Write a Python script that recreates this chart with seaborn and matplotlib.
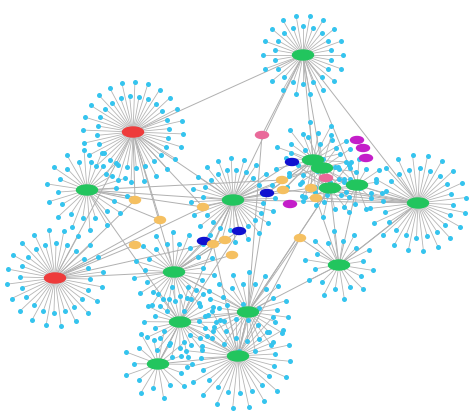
import numpy as np
import pandas as pd
import matplotlib
matplotlib.use('Agg')
from matplotlib import pyplot as plt
from matplotlib.patches import Ellipse
import seaborn as sns

# hub nodes: name, x, y (pixel coords), colour group, leaf count, leaf radius
hub_names = ['g_top', 'r_left', 'g_left', 'g_mid', 'g_c1', 'g_c2', 'g_c3', 'g_c4',
             'g_right', 'r_low', 'g_low1', 'g_low2', 'g_b1', 'g_b2', 'g_b3', 'g_b4']
hub_x = [303, 133, 87, 233, 313, 322, 330, 357, 418, 55, 174, 339, 180, 248, 158, 238]
hub_y = [55, 132, 190, 200, 160, 168, 188, 185, 203, 278, 272, 265, 322, 312, 364, 356]
hub_group = ['green', 'red', 'green', 'green', 'green', 'green', 'green', 'green',
             'green', 'red', 'green', 'green', 'green', 'green', 'green', 'green']
hub_leaves = [36, 48, 28, 40, 22, 18, 14, 14, 40, 40, 30, 20, 28, 30, 18, 40]
hub_radius = [40, 50, 40, 42, 38, 34, 30, 26, 48, 48, 40, 34, 36, 40, 34, 52]

# small coloured nodes
small_x = [357, 363, 366, 290, 262, 326, 292, 267, 204, 239,
           135, 160, 203, 135, 213, 225, 232, 282, 283, 311, 316, 300]
small_y = [140, 148, 158, 204, 135, 178, 162, 193, 241, 231,
           200, 220, 207, 245, 244, 240, 255, 180, 190, 188, 198, 238]
small_group = ['magenta'] * 4 + ['pink'] * 2 + ['blue'] * 4 + ['orange'] * 12

# edges between hubs / small nodes (indices: hubs 0-15, small nodes 16+)
edge_a = [0, 0, 0, 0, 1, 1, 1, 1, 2, 2, 3, 3, 3, 3, 3, 4, 4, 8, 8, 8, 9, 9, 9, 10, 10, 10, 11, 11,
          12, 12, 13, 13, 13, 14, 15, 15, 3, 1, 2, 6, 7, 0, 10, 12, 13, 9, 2, 4, 5, 8, 11, 3,
          2, 2, 8, 8, 8, 9, 9, 10, 10, 12, 13, 14, 15, 0, 0, 1, 3, 3, 11, 4, 5, 6, 7, 20]
edge_b = [4, 3, 8, 20, 3, 26, 10, 27, 26, 3, 28, 24, 25, 30, 33, 34, 35, 6, 7, 11, 29, 10, 26,
          30, 31, 32, 6, 8, 13, 14, 15, 11, 37, 15, 13, 30, 22, 9, 12, 13, 11, 1, 13, 15, 6,
          31, 27, 23, 36, 35, 37, 12,
          28, 33, 36, 34, 3, 27, 28, 24, 25, 25, 23, 12, 37, 5, 7, 28, 34, 35, 36, 23, 33, 22, 21, 13]

colours = {'green': '#22c55e', 'red': '#ee3b3b', 'magenta': '#c41ec9', 'pink': '#e96a9a',
           'blue': '#1010d0', 'orange': '#f5c061'}
leaf_colour = '#35c4ee'

all_x = hub_x + small_x
all_y = hub_y + small_y

fig = plt.figure(figsize=(4.74, 4.18), dpi=100)
ax = fig.add_axes([0, 0, 1, 1])
ax.set_xlim(0, 474)
ax.set_ylim(418, 0)
ax.axis('off')

# leaves on two staggered rings around each hub
leaf_rows = []
for i in range(len(hub_names)):
    n = hub_leaves[i]
    for k in range(n):
        ang = 2 * np.pi * k / n + 0.3 * i
        r = hub_radius[i] * (1.0 if k % 2 == 0 else 0.72)
        lx = hub_x[i] + r * np.cos(ang)
        ly = hub_y[i] + r * np.sin(ang)
        leaf_rows.append((lx, ly))
        ax.plot([hub_x[i], lx], [hub_y[i], ly], color='#b5b5b5', lw=0.6, zorder=1)
leaves = pd.DataFrame(leaf_rows, columns=['x', 'y'])

for a, b in zip(edge_a, edge_b):
    ax.plot([all_x[a], all_x[b]], [all_y[a], all_y[b]], color='#b0b0b0', lw=0.7, zorder=1)

sns.scatterplot(data=leaves, x='x', y='y', color=leaf_colour, s=13, linewidth=0, ax=ax, zorder=2)

for i in range(len(hub_names)):
    ax.add_patch(Ellipse((hub_x[i], hub_y[i]), 21, 10, color=colours[hub_group[i]], zorder=3))
for i in range(len(small_x)):
    w = 13 if small_group[i] != 'orange' else 11
    ax.add_patch(Ellipse((small_x[i], small_y[i]), w, 7, color=colours[small_group[i]], zorder=3))

ax.set_xlim(0, 474)
ax.set_ylim(418, 0)
ax.set_xlabel('')
ax.set_ylabel('')
fig.savefig('out.png', dpi=100)
